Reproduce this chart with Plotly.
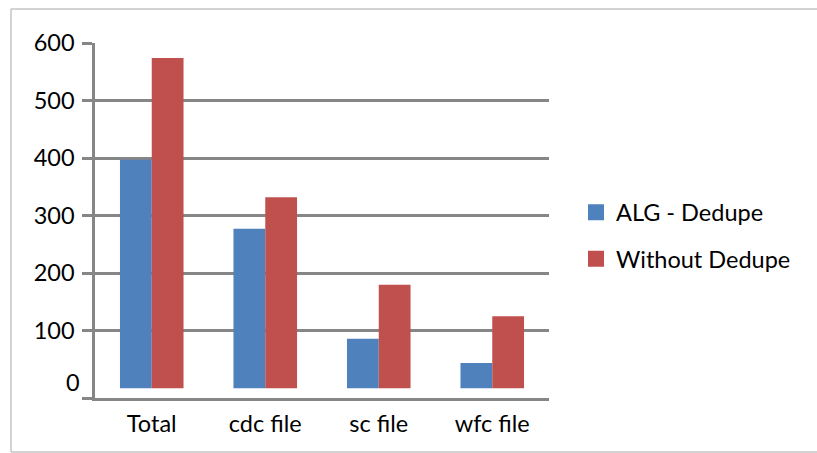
import plotly.graph_objects as go

# Data
categories = ["Total", "cdc file", "sc file", "wfc file"]
alg_dedupe = [397, 277, 86, 44]
without_dedupe = [574, 332, 180, 125]
y_ticks = [100, 200, 300, 400, 500, 600]

BLUE = "#4F81BD"
RED = "#C0504D"
GRID = "#868686"
FONT = "Lato"
FS = 23.5

W, H = 817, 453
L, R, T, B = 95, 268, 43, 55
plot_w = W - L - R
plot_h = H - T - B

Y_MIN, Y_MAX = -17, 600


def px_x(px):
    return (px - L) / plot_w


def px_y(py):
    return (H - B - py) / plot_h


fig = go.Figure()

fig.add_trace(go.Bar(x=categories, y=alg_dedupe, name="ALG - Dedupe",
                     marker=dict(color=BLUE, line=dict(width=0)),
                     showlegend=False))
fig.add_trace(go.Bar(x=categories, y=without_dedupe, name="Without Dedupe",
                     marker=dict(color=RED, line=dict(width=0)),
                     showlegend=False))

# Legend entries with larger square swatches
for name, color, grp in [("ALG - Dedupe", BLUE, "a"), ("Without Dedupe", RED, "b")]:
    fig.add_trace(go.Scatter(x=[None], y=[None], mode="markers", name=name,
                             legendgroup=grp,
                             marker=dict(symbol="square", size=16, color=color)))

# y-axis ticks: the bottom tick (no label) extends the category axis line
tickvals = [Y_MIN] + y_ticks
ticktext = [""] + [str(v) for v in y_ticks]

fig.update_layout(
    width=W, height=H,
    margin=dict(l=L, r=R, t=T, b=B, pad=0),
    paper_bgcolor="white", plot_bgcolor="white",
    font=dict(family=FONT, size=FS, color="black"),
    barmode="group", bargap=0.44, bargroupgap=0,
    showlegend=True,
    legend=dict(x=px_x(576), xanchor="left", y=px_y(236), yanchor="middle",
                font=dict(family=FONT, size=FS, color="black"),
                tracegroupgap=13, itemsizing="trace",
                bgcolor="rgba(0,0,0,0)"),
    xaxis=dict(showgrid=False, showline=True, linecolor=GRID, linewidth=2.5,
               ticks="", ticklabelstandoff=3,
               tickfont=dict(family=FONT, size=FS, color="black")),
    yaxis=dict(range=[Y_MIN, Y_MAX], tickvals=tickvals, ticktext=ticktext,
               showgrid=True, gridcolor=GRID, gridwidth=2.5,
               zeroline=False, showline=True, linecolor=GRID, linewidth=2.5,
               ticks="outside", ticklen=10, tickwidth=2.5, tickcolor=GRID,
               ticklabelstandoff=3,
               tickfont=dict(family=FONT, size=FS, color="black")),
)

# label for zero (no tick mark at that level)
fig.add_annotation(x=px_x(82), xref="paper", xanchor="right",
                   y=0, yref="y", yanchor="middle", yshift=6,
                   text="0", showarrow=False,
                   font=dict(family=FONT, size=FS, color="black"))

# outer chart frame (top, left and bottom edges)
frame = "#C4C4C4"
for x0, y0, x1, y1 in [(11, 9, W, 9), (11, 9, 11, 452), (11, 452, W, 452)]:
    fig.add_shape(type="line", xref="paper", yref="paper",
                  x0=px_x(x0), y0=px_y(y0), x1=px_x(x1), y1=px_y(y1),
                  line=dict(color=frame, width=1.5))

fig.write_html("out.html")
